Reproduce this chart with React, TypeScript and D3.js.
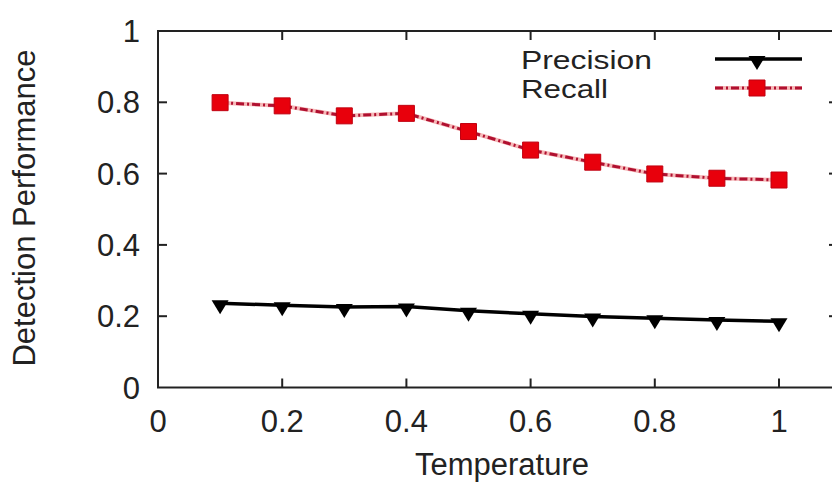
import React from "react";
import * as d3 from "d3";

const temperature = [0.1, 0.2, 0.3, 0.4, 0.5, 0.6, 0.7, 0.8, 0.9, 1.0];
const precision = [0.236, 0.231, 0.226, 0.227, 0.215, 0.207, 0.199, 0.194, 0.189, 0.186];
const recall = [0.799, 0.79, 0.762, 0.769, 0.718, 0.666, 0.632, 0.599, 0.587, 0.582];
const xTicks = [0, 0.2, 0.4, 0.6, 0.8, 1];
const yTicks = [0, 0.2, 0.4, 0.6, 0.8, 1];
const seriesNames = ["Precision", "Recall"];
const xLabel = "Temperature";
const yLabel = "Detection Performance";

const W = 832;
const H = 486;
const FONT = "Arial, 'Liberation Sans', Helvetica, sans-serif";

const x = d3.scaleLinear().domain([0, 1.095]).range([158, 838]);
const y = d3.scaleLinear().domain([0, 1]).range([387.5, 31]);

const triDown = {
  draw(ctx: any, _size: number) {
    ctx.moveTo(-8.5, -3);
    ctx.lineTo(8.5, -3);
    ctx.lineTo(0, 11);
    ctx.closePath();
  },
};
const triPath = d3.symbol().type(triDown as any).size(1)() as string;
const sqPath = d3.symbol().type(d3.symbolSquare).size(16 * 16)() as string;

export default function App() {
  const line = d3
    .line<number>()
    .x((_, i) => x(temperature[i]))
    .y((d) => y(d));
  const [x0, x1] = x.range();
  const [y0, y1] = y.range();
  const tickLen = 9;
  const legX1 = 715;
  const legX2 = 802;
  const legMid = 757;
  const legY = [59, 88];
  const textColor = "#222";

  return (
    <svg
      width={W}
      height={H}
      style={{ position: "absolute", left: 0, top: 0, background: "#fff" }}
      fontFamily={FONT}
    >
      <rect x={0} y={0} width={W} height={H} fill="#fff" />
      {/* border */}
      <rect x={x0} y={y1} width={x1 - x0} height={y0 - y1} fill="none" stroke="#222" strokeWidth={2} />
      {/* y ticks */}
      {yTicks.map((t) => (
        <g key={"y" + t}>
          {t > 0 && t < 1 && (
            <>
              <line x1={x0} x2={x0 + tickLen} y1={y(t)} y2={y(t)} stroke="#222" strokeWidth={2} />
              <line x1={x1} x2={x1 - tickLen} y1={y(t)} y2={y(t)} stroke="#222" strokeWidth={2} />
            </>
          )}
          <text x={140} y={y(t)} dy="0.36em" textAnchor="end" fontSize={31} fill={textColor}>
            {String(t)}
          </text>
        </g>
      ))}
      {/* x ticks */}
      {xTicks.map((t) => (
        <g key={"x" + t}>
          {t > 0 && (
            <>
              <line x1={x(t)} x2={x(t)} y1={y0} y2={y0 - tickLen} stroke="#222" strokeWidth={2} />
              <line x1={x(t)} x2={x(t)} y1={y1} y2={y1 + tickLen} stroke="#222" strokeWidth={2} />
            </>
          )}
          <text x={x(t)} y={432} textAnchor="middle" fontSize={31} fill={textColor}>
            {String(t)}
          </text>
        </g>
      ))}
      {/* axis labels */}
      <text x={502} y={475} textAnchor="middle" fontSize={31} fill={textColor}>
        {xLabel}
      </text>
      <text
        transform={`translate(35,208) rotate(-90)`}
        textAnchor="middle"
        fontSize={31}
        fill={textColor}
      >
        {yLabel}
      </text>

      {/* precision */}
      <path d={line(precision) as string} fill="none" stroke="#000" strokeWidth={3.5} />
      {precision.map((v, i) => (
        <path key={"p" + i} d={triPath} transform={`translate(${x(temperature[i])},${y(v)})`} fill="#000" />
      ))}

      {/* recall */}
      <path d={line(recall) as string} fill="none" stroke="#f6b8b8" strokeWidth={4} />
      <path d={line(recall) as string} fill="none" stroke="#b01030" strokeWidth={3} strokeDasharray="8,3,2,3" />
      {recall.map((v, i) => (
        <path key={"r" + i} d={sqPath} transform={`translate(${x(temperature[i])},${y(v)})`} fill="#e8000c" stroke="#c00010" strokeWidth={1} />
      ))}

      {/* legend */}
      <text x={521} y={legY[0] + 9.5} fontSize={26} fill={textColor} textLength={131} lengthAdjust="spacingAndGlyphs">
        {seriesNames[0]}
      </text>
      <line x1={legX1} x2={legX2} y1={legY[0]} y2={legY[0]} stroke="#000" strokeWidth={3.5} />
      <path d={triPath} transform={`translate(${legMid},${legY[0]})`} fill="#000" />

      <text x={521} y={legY[1] + 9.5} fontSize={26} fill={textColor} textLength={87} lengthAdjust="spacingAndGlyphs">
        {seriesNames[1]}
      </text>
      <line x1={legX1} x2={legX2} y1={legY[1]} y2={legY[1]} stroke="#f6b8b8" strokeWidth={4} />
      <line x1={legX1} x2={legX2} y1={legY[1]} y2={legY[1]} stroke="#b01030" strokeWidth={3} strokeDasharray="8,3,2,3" />
      <path d={sqPath} transform={`translate(${legMid},${legY[1]})`} fill="#e8000c" stroke="#c00010" strokeWidth={1} />
    </svg>
  );
}
